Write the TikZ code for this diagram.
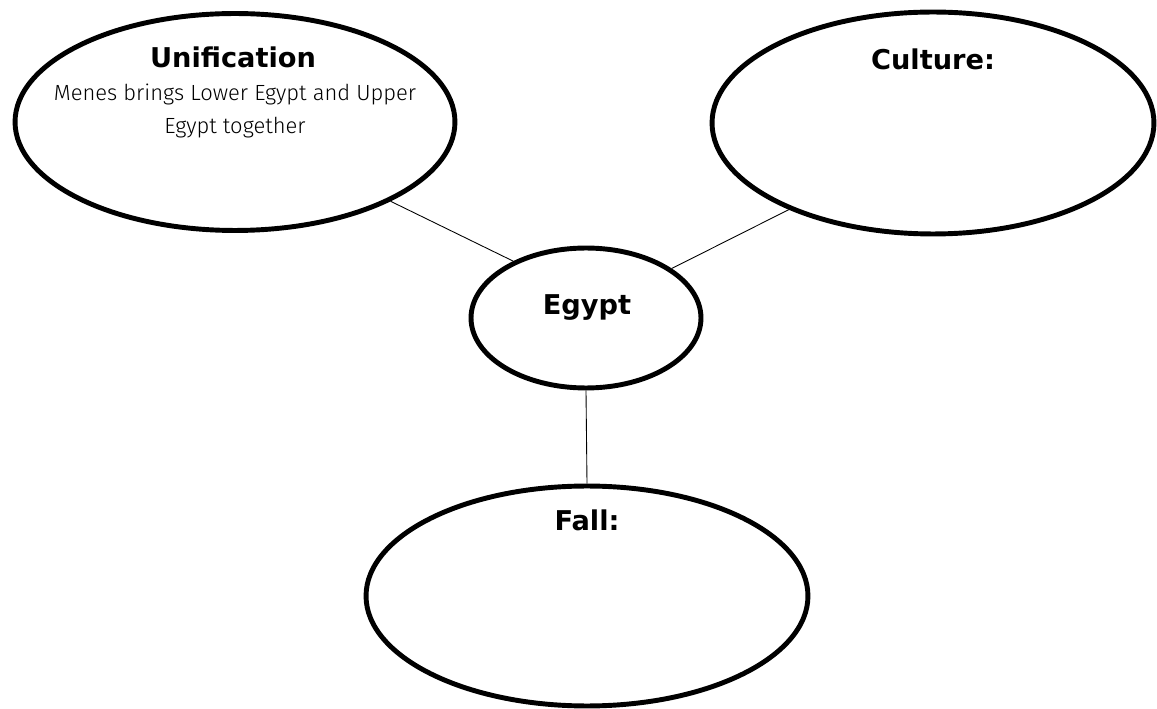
\documentclass[tikz,border=0pt]{standalone}
\usepackage{fontspec}
\setmainfont{Open Sans}
\newfontfamily\titlefont{DejaVu Sans}
\newfontfamily\handfont{Fira Sans Light}
\usetikzlibrary{shapes.geometric}

\begin{document}
\begin{tikzpicture}[x=0.02cm,y=-0.02cm]
    \tikzstyle{every node} = [align=center]
    \tikzstyle{bubble} = [ellipse, draw, line width=2.8pt, inner sep=0pt]
    \tikzstyle{title} = [anchor=base, font=\titlefont\fontsize{15.5}{18}\selectfont\bfseries]
    \tikzstyle{link} = [line width=0.5pt]

    \useasboundingbox (0,0) rectangle (1157,709);

    % the four bubbles
    \node[bubble, minimum width=8.8cm, minimum height=4.34cm] (uni) at (235,122) {};
    \node[bubble, minimum width=8.84cm, minimum height=4.44cm] (culture) at (933,123) {};
    \node[bubble, minimum width=4.6cm, minimum height=2.8cm] (egypt) at (586,318) {};
    \node[bubble, minimum width=8.84cm, minimum height=4.4cm] (fall) at (587,596) {};

    \node[title] (unititle) at (233,68) {Unification};
    \node[font=\handfont\fontsize{12.5}{19}\selectfont] (uninote) at (235,111)
        {Menes brings Lower Egypt and Upper\\ Egypt together};
    \node[title] (culturetitle) at (933,70) {Culture:};
    \node[title] (egypttitle) at (587,315) {Egypt};
    \node[title] (falltitle) at (587,531) {Fall:};

    \draw[link] (uni.-27) -- (egypt.142);
    \draw[link] (culture.-149) -- (egypt.30);
    \draw[link] (egypt.south) -- (fall.north);
\end{tikzpicture}
\end{document}
